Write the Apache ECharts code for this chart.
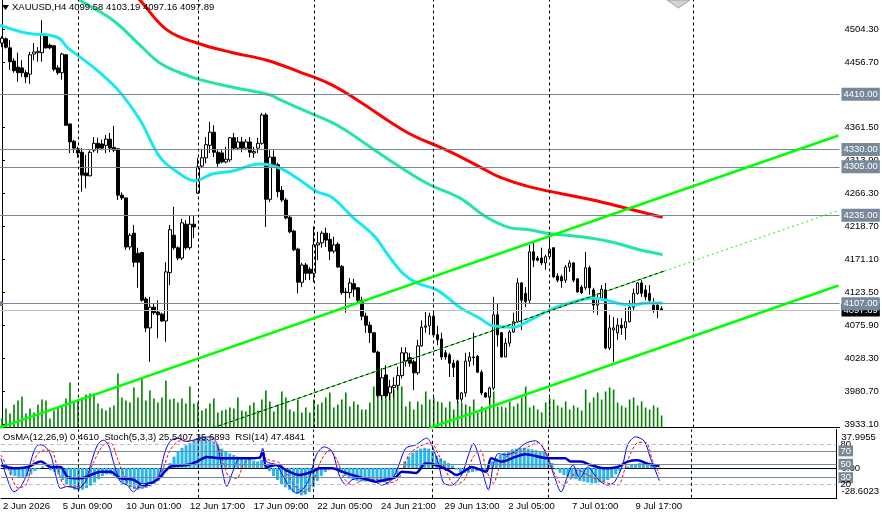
<!DOCTYPE html>
<html>
<head>
<meta charset="utf-8">
<script src="https://cdn.jsdelivr.net/npm/echarts@6/dist/echarts.min.js"></script>
<style>
html, body { margin: 0; padding: 0; background: #fff; }
#main { width: 882px; height: 519px; }
</style>
</head>
<body>
<div id="main"></div>
<script>
var totalBars = 210;
var timeLabels = ["2 Jun 2026", "5 Jun 09:00", "10 Jun 01:00", "12 Jun 17:00", "17 Jun 09:00", "22 Jun 05:00",
    "24 Jun 21:00", "29 Jun 13:00", "2 Jul 05:00", "7 Jul 01:00", "9 Jul 17:00"];
var timeLabelIdx = [0, 15, 31, 47, 63, 79, 95, 111, 127, 143, 159];
var priceTicks = [4504.3, 4456.7, 4361.5, 4313.9, 4266.3, 4218.7, 4171.1, 4123.5, 4075.9, 4028.3, 3980.7, 3933.1];
var separators = [19, 49, 78, 108, 137, 173];
var levels = [4410, 4330, 4305, 4235, 4107];
var bidPrice = 4097.89;

// open, close, low, high
var candles = [
    [4484,4491,4478,4494],[4490,4478,4476,4492],[4477,4457,4445,4488],[4458,4444,4441,4462],[4449,4441,4428,4470],
    [4448,4441,4435,4459],[4441,4435,4426,4445],[4439,4467,4425,4471],[4468,4471,4459,4484],[4470,4472,4457,4478],
    [4470,4496,4457,4517],[4494,4477,4476,4496],[4481,4477,4475,4483],[4480,4446,4443,4481],[4448,4441,4438,4452],
    [4441,4468,4431,4470],[4467,4365,4364,4468],[4367,4341,4325,4367],[4342,4332,4325,4344],[4331,4325,4318,4334],
    [4326,4293,4269,4332],[4296,4292,4274,4322],[4292,4326,4291,4329],[4329,4339,4326,4348],[4339,4332,4325,4347],
    [4338,4332,4329,4344],[4336,4345,4325,4351],[4345,4332,4326,4354],[4333,4329,4326,4364],[4331,4264,4257,4332],
    [4264,4260,4257,4268],[4260,4189,4185,4260],[4189,4206,4185,4209],[4209,4167,4160,4221],[4180,4167,4130,4188],
    [4181,4112,4110,4182],[4114,4072,4066,4117],[4072,4102,4023,4117],[4102,4094,4091,4108],[4095,4091,4057,4112],
    [4092,4082,4081,4094],[4082,4153,4052,4167],[4152,4214,4134,4221],[4206,4188,4185,4247],[4188,4173,4170,4190],
    [4173,4224,4170,4230],[4222,4188,4185,4228],[4188,4222,4185,4235],[4222,4218,4202,4235],[4267,4305,4266,4318],
    [4306,4318,4303,4331],[4318,4337,4310,4348],[4336,4355,4325,4370],[4355,4326,4319,4365],[4326,4310,4305,4329],
    [4325,4312,4310,4329],[4312,4316,4310,4334],[4315,4347,4312,4348],[4347,4332,4329,4354],[4332,4341,4329,4348],
    [4341,4332,4326,4348],[4332,4341,4329,4345],[4341,4326,4319,4348],[4325,4327,4318,4334],[4332,4339,4325,4347],
    [4339,4380,4337,4383],[4380,4258,4218,4383],[4258,4319,4254,4329],[4319,4308,4305,4329],[4308,4269,4261,4311],
    [4271,4257,4254,4277],[4257,4231,4229,4260],[4232,4211,4209,4235],[4212,4185,4183,4214],[4186,4138,4122,4188],
    [4138,4163,4131,4166],[4163,4151,4141,4166],[4157,4151,4141,4160],[4151,4192,4138,4219],[4192,4195,4170,4211],
    [4195,4209,4188,4212],[4209,4199,4189,4217],[4200,4183,4170,4209],[4183,4192,4180,4204],[4193,4160,4159,4196],
    [4161,4123,4120,4163],[4123,4124,4094,4130],[4123,4137,4115,4144],[4136,4128,4117,4143],[4130,4112,4108,4131],
    [4112,4089,4083,4117],[4089,4076,4065,4094],[4076,4065,4050,4081],[4065,4037,4036,4066],[4037,3974,3971,4039],
    [3974,4000,3968,4014],[4004,3974,3971,4018],[3978,3987,3968,3997],[3986,3989,3971,4001],[3989,4003,3982,4016],
    [4003,4036,3999,4044],[4024,4036,4016,4044],[4029,4021,4016,4036],[4023,4007,3982,4026],[4007,4046,4004,4055],
    [4046,4073,4045,4083],[4073,4075,4065,4095],[4075,4089,4062,4094],[4089,4062,4062,4094],[4062,4055,4047,4075],
    [4056,4030,4026,4065],[4036,4030,4026,4040],[4033,4021,4001,4036],[4021,4015,4001,4026],[4024,3969,3963,4026],
    [3969,3978,3965,3979],[3978,4024,3972,4036],[4024,4030,4016,4037],[4030,4029,4018,4065],[4031,4008,4007,4033],
    [4008,3978,3975,4011],[3978,3972,3971,3979],[3972,3985,3963,3987],[3985,4091,3982,4117],[4091,4062,4045,4108],
    [4065,4030,4029,4066],[4030,4050,4030,4057],[4050,4066,4045,4069],[4066,4081,4065,4094],[4081,4137,4079,4144],
    [4137,4112,4069,4138],[4122,4110,4102,4131],[4112,4182,4108,4192],[4182,4170,4160,4195],[4173,4170,4168,4176],
    [4173,4166,4163,4188],[4166,4175,4156,4178],[4175,4186,4173,4204],[4188,4146,4144,4188],[4147,4141,4138,4151],
    [4146,4140,4130,4149],[4141,4160,4137,4163],[4160,4166,4153,4170],[4166,4141,4138,4167],[4143,4124,4123,4144],
    [4131,4123,4121,4134],[4130,4159,4127,4182],[4159,4130,4120,4162],[4127,4105,4094,4130],[4105,4115,4091,4122],
    [4115,4128,4112,4134],[4127,4043,4041,4137],[4043,4072,4040,4091],[4069,4072,4023,4088],[4065,4076,4055,4086],
    [4076,4072,4062,4086],[4072,4081,4055,4101],[4081,4102,4080,4112],[4102,4122,4098,4129],[4122,4137,4120,4138],
    [4137,4122,4117,4141],[4127,4117,4112,4134],[4122,4112,4109,4134],[4105,4098,4094,4115],[4105,4098,4086,4108],
    [4099.58,4097.89,4097.16,4103.19]
];

var volumes = [
    9,19,14,23,27,31,14,19,15,23, 28,27,9,17,20,22,29,45,25,28, 30,33,34,34,24,19,17,20,22,54,
    30,27,25,40,30,49,27,37,29,25, 30,47,28,29,25,29,24,41,24,25, 17,19,24,29,15,17,18,20,19,30,
    17,16,22,25,17,28,37,
    26,16,23,36,30,18,16,28,15,20, 15,28,23,25,30,35,20,23,28,35, 21,26,23,18,18,25,41,41,31,33,
    35,38,42,41,21,26,18,26,23,36, 28,30,26,25,20,26,18,26,25,23, 21,28,15,21,18,35,36,21,21,20,
    26,21,24,30,41,
    20,22,18,15,25,30,28,22,20,26, 18,22,20,17,38,25,30,35,28,36, 40,38,25,22,20,28,30,22,26,20,
    18,22,20,12
];

// moving averages, [bar, price]
var maFast = [[-0.5,4510],[7.75,4497],[11.25,4496],[14.5,4490],[16.25,4478],[19.5,4464],[24.5,4441],[29.5,4413],
    [34.5,4373],[39.5,4319],[43.75,4298],[48.25,4285],[52.75,4295],[57.75,4299],[64.5,4309],[69.5,4303],
    [74.5,4286],[78.75,4269],[82.5,4261],[87.75,4232],[93.25,4204],[96.25,4180],[100.25,4151],[103.75,4137],
    [108.75,4127],[114.5,4102],[119.5,4086],[122.75,4075],[127.75,4073],[132,4083],[137,4098],[142,4108],
    [147.75,4115],[151.25,4112],[154.5,4107],[157.75,4105],[161.25,4108],[165.25,4108]];
var maMid = [[12,4575],[19.5,4546],[27.75,4517],[34.5,4481],[39.5,4455],[44.5,4441],[49.5,4431],[57.75,4420],
    [67,4409],[69.5,4402],[77,4383],[84.5,4363],[92,4334],[99.5,4305],[107,4279],[114.5,4260],[121.25,4232],
    [127,4217],[132,4214],[136.25,4209],[144.5,4204],[152.75,4196],[159.5,4185],[165.25,4178]];
var maSlow = [[30,4572],[34.5,4546],[41.25,4503],[48.75,4484],[57.75,4470],[66.25,4459],[74.5,4442],[82,4425],
    [88.75,4402],[101.25,4355],[111.25,4329],[119.5,4305],[124.5,4290],[132,4276],[147.75,4257],[156.25,4245],
    [165.25,4232]];

// channel lines
var chUpper = [[-0.5,3928.0],[209.25,4350.3]];
var chLower = [[107,3927.3],[209.25,4133.3]];
var chMid = [[52.75,3927.3],[165.75,4154.4]];
var chMidRay = [[165.75,4154.4],[209.25,4241.8]];

// indicators
var osma = [
    0,-2, -8,-10,-11,-11,-10,-8, -4,-1,2, 0,-3,-5,-8,
    -15,-20,-24,-27,-28,-27,-25,-22, -18,-14,-10,-8,-8,
    -10,-14,-18,-21,-24,-26,-27,-26,-25,-23,-20,-16,-12,
    -4,6,14,20,25,28,31,34,36,38,37,35,32,
    28,24,21,18,16,14,12,11,10,9,8,10,
    4,-4,-10,-15,-20,-24,-27,-30,-32,-34,-33,-30,
    -24,-16,-10,-5,-2,0,-2,
    -6,-10,-13,-15,-16,-17,-17,-16,-16,-15,-17,-18,-16,-14,
    -8,0,8,14,19,22,24,25,24,20,15,
    12,9,6,3, -2,-5,-6,-6,-5,-4,-3,-2,
    3,8,12,16,19,21,23,24,25,25,24,23,22,21,20,14,
    6,-2,-6,-9,-11,-13,-14,-16,-17,-18,-19,-19,-18,-17,-15,-12,-8,-4,-1,2,
    4,5,6,6,5,4,2,0.461
];
var stochMain = [[-0.5,59],[0.75,34],[2.75,9],[4.5,17],[6.25,39],[7.75,69],[9,79],[10.25,78],[12,64],[13.25,34],
    [14.5,14],[16.25,17],[18.75,14],[20.75,24],[22,49],[23.75,79],[25.25,86],[26.5,79],[27.75,54],[29.5,24],
    [31.25,19],[32.75,9],[34.5,19],[36.25,22],[38.75,27],[40.75,69],[42,84],[43.75,89],[46.25,84],[49.5,89],
    [52,91],[53.75,81],[55,44],[56.25,17],[57.75,39],[59.5,59],[61.25,59],[62.75,59],[64.5,61],[65.25,74],
    [66.25,54],[68.75,49],[70.25,34],[72,17],[73.75,7],[75.25,12],[77,29],[78.75,64],[80.75,76],[82.75,69],
    [84.5,34],[86.25,19],[87.75,27],[90.25,29],[92.75,27],[95.25,19],[97.75,27],[99.5,49],[101.25,74],[103.75,79],
    [106.5,89],[107.75,79],[109.5,50],[110.75,22],[112.75,19],[115.25,34],[117,64],[118.25,81],[119.5,64],
    [120.75,34],[122,12],[123.25,49],[124.5,66],[126.25,64],[128.75,69],[131.25,81],[133.75,85],[135.25,79],
    [137,59],[138.75,29],[140.25,9],[142,34],[143.25,49],[145,29],[147,46],[148.75,34],[150.25,24],[152,19],
    [153.75,24],[155.75,49],[157,79],[159,91],[161.25,84],[162.75,59],[165,25.54]];
var stochSignal = [[-0.5,64],[1.5,41],[3.75,15],[5.75,19],[7.75,56],[10,71],[12,71],[13.75,44],[15.25,19],
    [17.75,16],[20.25,21],[22.75,53],[25.25,79],[27,82],[28.75,59],[30.75,29],[32.75,15],[35.25,16],[37.75,22],
    [40.25,44],[42,71],[44.5,85],[48.25,85],[52,86],[54.5,71],[56.5,34],[58.75,29],[60.75,53],[63.25,59],
    [65.75,59],[67,56],[69.5,52],[71.5,34],[73.75,15],[75.75,9],[77.75,22],[80,56],[82,71],[84,56],[85.75,29],
    [87.75,19],[90.75,27],[94,27],[97,22],[99.5,29],[102,64],[104.5,76],[107.5,82],[109.5,64],[111.5,38],
    [113.5,19],[116,27],[118,59],[120,71],[121.5,41],[123.25,22],[125,49],[127,64],[129.5,68],[132,76],
    [134.5,82],[136.25,71],[138.25,41],[140.75,19],[142.5,27],[144.5,41],[147,34],[149.5,27],[152,22],
    [154.5,19],[157,56],[159.5,82],[161.5,83],[163.25,56],[165,35.69]];
var rsi = [[-0.5,49],[2.75,44],[6.25,46],[9.5,54],[12,46],[14.5,46],[16.25,31],[19.5,29],[22,34],[24.5,39],
    [27,39],[29.5,29],[32.75,27],[35.25,19],[38.75,27],[42,46],[46.25,49],[48.75,54],[51.25,61],[54.5,59],
    [57.75,59],[62,59],[64.5,60],[65.25,69],[66.25,46],[68.75,49],[71.25,41],[74.5,34],[77.75,39],[79.5,44],
    [82.75,44],[85.25,39],[89.5,31],[93.75,24],[96.25,27],[98.75,31],[100.25,39],[103.75,37],[106.25,51],
    [108.75,49],[112,41],[114,34],[116.25,41],[117.75,46],[120.25,41],[121.5,39],[122.75,59],[125.25,54],
    [128.75,61],[131.25,65],[137,59],[141.25,59],[142.75,54],[145.25,54],[147.75,49],[151.25,44],[154.5,46],
    [157,54],[159.5,56],[162,51],[165,47.48]];
var oscLevels = [80, 70, 50, 30, 20];
var osmaTicks = [37.9955, 0, -28.6023];

var FONT = 'Liberation Sans';
var cats = [];
var labelMap = {};
for (var i = 0; i < totalBars; i++) {
    cats.push('b' + i);
}
for (var k = 0; k < timeLabelIdx.length; k++) {
    labelMap[timeLabelIdx[k]] = timeLabels[k];
}

var sepLines = separators.map(function (s) { return { xAxis: s }; });
var sepMark = {
    silent: true, symbol: ['none', 'none'], animation: false,
    label: { show: false },
    lineStyle: { color: '#000', width: 1, type: [3, 3], opacity: 1 },
    emphasis: { disabled: true },
    data: sepLines
};

function boxLabel(bg) {
    return {
        show: true, position: 'end', distance: 2,
        formatter: function (p) { return p.value.toFixed(2); },
        color: '#fff', backgroundColor: bg, padding: [2, 2, 1, 2],
        fontFamily: FONT, fontSize: 9.5
    };
}

var priceLines = [{
    yAxis: bidPrice,
    lineStyle: { color: '#c0c0c0', width: 1, type: 'solid' },
    label: boxLabel('#000')
}];
levels.forEach(function (lv) {
    var item = {
        yAxis: lv,
        lineStyle: { color: '#778899', width: 1, type: 'solid' },
        label: boxLabel('#778899')
    };
    if (lv === 4107) {
        item.symbol = ['emptyRect', 'emptyRect'];
        item.symbolSize = 5;
    }
    priceLines.push(item);
});

var oscLines = oscLevels.map(function (lv) {
    var boxed = (lv === 70 || lv === 50 || lv === 30);
    return {
        yAxis: lv,
        lineStyle: boxed ? { color: '#778899', width: 1, type: 'solid' } : { color: '#c0c0c0', width: 1, type: [4, 3] },
        label: {
            show: true, position: 'end', distance: 2,
            formatter: String(lv),
            color: boxed ? '#fff' : '#000',
            backgroundColor: boxed ? '#778899' : 'transparent',
            padding: [1, 2, 0, 2], fontFamily: FONT, fontSize: 9.5
        }
    };
});

var myChart = echarts.init(document.getElementById('main'));
var option = {
    animation: false,
    backgroundColor: '#fff',
    title: [{
        text: 'XAUUSD,H4 4099.58 4103.19 4097.16 4097.89',
        left: 12, top: 2.5, padding: 0,
        textStyle: { fontFamily: FONT, fontSize: 9.5, fontWeight: 'normal', color: '#000' }
    }, {
        text: 'OsMA(12,26,9) 0.4610  Stoch(5,3,3) 25.5407 35.6893  RSI(14) 47.4841',
        left: 3, top: 432.5, padding: 0,
        textStyle: { fontFamily: FONT, fontSize: 9.5, fontWeight: 'normal', color: '#000' }
    }],
    graphic: [{
        type: 'polygon', shape: { points: [[2, 5], [9, 5], [5.5, 10]] },
        style: { fill: '#000' }
    }, {
        type: 'polygon', shape: { points: [[667, 0], [690, 0], [678.5, 8]] },
        style: { fill: '#d4d4d4', stroke: '#a0a0a0', lineWidth: 1 }
    }],
    grid: [
        { left: -0.5, width: 840, top: 0, height: 427.5 },
        { left: -0.5, width: 840, top: 429.5, height: 68.3 }
    ],
    xAxis: [
        { type: 'category', gridIndex: 0, data: cats, boundaryGap: true,
          axisLine: { show: true, lineStyle: { color: '#000', width: 1 } },
          axisTick: { show: false }, axisLabel: { show: false }, splitLine: { show: false } },
        { type: 'value', gridIndex: 0, min: -0.5, max: totalBars - 0.5, show: false },
        { type: 'category', gridIndex: 1, data: cats, boundaryGap: true,
          axisLine: { show: true, lineStyle: { color: '#000', width: 1 } },
          axisTick: { show: false }, splitLine: { show: false },
          axisLabel: {
              show: true, margin: 4, align: 'left', color: '#000', fontFamily: FONT, fontSize: 9.5,
              interval: function (index) { return labelMap[index] !== undefined; },
              formatter: function (v, index) { return labelMap[index] || ''; }
          } },
        { type: 'value', gridIndex: 1, min: -0.5, max: totalBars - 0.5, position: 'top',
          axisLine: { show: true, lineStyle: { color: '#000', width: 1 } },
          axisTick: { show: false }, axisLabel: { show: false }, splitLine: { show: false } }
    ],
    yAxis: [
        { type: 'value', gridIndex: 0, position: 'right', min: 3928.0, max: 4546.2,
          axisLine: { show: true, lineStyle: { color: '#000', width: 1 } },
          axisTick: { show: true, length: 3, lineStyle: { color: '#000' }, customValues: priceTicks },
          axisLabel: { show: true, margin: 5, color: '#000', fontFamily: FONT, fontSize: 9.5,
              customValues: priceTicks,
              formatter: function (v) { return v.toFixed(2); } },
          splitLine: { show: false } },
        { type: 'value', gridIndex: 0, min: 0, max: 427.5, show: false },
        { type: 'value', gridIndex: 1, min: 0, max: 101.9, show: false },
        { type: 'value', gridIndex: 1, position: 'right', min: -37.03, max: 47.67,
          axisLine: { show: true, lineStyle: { color: '#000', width: 1 } },
          axisTick: { show: false },
          axisLabel: { show: true, margin: 5, color: '#000', fontFamily: FONT, fontSize: 9.5,
              customValues: osmaTicks,
              formatter: function (v) { return v === 0 ? '0.00' : v.toFixed(4); } },
          splitLine: { show: false } }
    ],
    series: [
        { name: 'Volumes', type: 'bar', xAxisIndex: 0, yAxisIndex: 1, data: volumes,
          barWidth: 1.6, itemStyle: { color: '#008000' }, z: 1, silent: true },
        { name: 'Levels', type: 'line', xAxisIndex: 1, yAxisIndex: 0, data: [], z: 1, symbol: 'none',
          markLine: { silent: true, symbol: ['none', 'none'], animation: false, data: priceLines } },
        { name: 'XAUUSD', type: 'candlestick', xAxisIndex: 0, yAxisIndex: 0, data: candles,
          barWidth: 3, z: 2, silent: true,
          itemStyle: { color: '#fff', color0: '#000', borderColor: '#000', borderColor0: '#000', borderWidth: 1 } },
        { name: 'MA fast', type: 'line', xAxisIndex: 1, yAxisIndex: 0, data: maFast, smooth: 0.4,
          showSymbol: false, symbol: 'none', z: 4, lineStyle: { color: '#18e8f0', width: 3 } },
        { name: 'MA mid', type: 'line', xAxisIndex: 1, yAxisIndex: 0, data: maMid, smooth: 0.4,
          showSymbol: false, symbol: 'none', z: 4, lineStyle: { color: '#22e6a2', width: 3 } },
        { name: 'MA slow', type: 'line', xAxisIndex: 1, yAxisIndex: 0, data: maSlow, smooth: 0.4,
          showSymbol: false, symbol: 'none', z: 4, lineStyle: { color: '#ff0000', width: 3 } },
        { name: 'Channel upper', type: 'line', xAxisIndex: 1, yAxisIndex: 0, data: chUpper,
          symbol: 'none', z: 5, lineStyle: { color: '#00ff00', width: 2.5 }, markLine: sepMark },
        { name: 'Channel lower', type: 'line', xAxisIndex: 1, yAxisIndex: 0, data: chLower,
          symbol: 'none', z: 5, lineStyle: { color: '#00ff00', width: 2.5 } },
        { name: 'Channel mid', type: 'line', xAxisIndex: 1, yAxisIndex: 0, data: chMid,
          symbol: 'none', z: 5, lineStyle: { color: '#00e000', width: 1 } },
        { name: 'Channel mid dash', type: 'line', xAxisIndex: 1, yAxisIndex: 0, data: chMid,
          symbol: 'none', z: 5, lineStyle: { color: '#000', width: 1, type: [3, 3] } },
        { name: 'Channel ray', type: 'line', xAxisIndex: 1, yAxisIndex: 0, data: chMidRay,
          symbol: 'none', z: 5, lineStyle: { color: '#00ff00', width: 1, type: [2, 3] } },
        { name: 'OsMA', type: 'bar', xAxisIndex: 2, yAxisIndex: 3, data: osma,
          barWidth: 3, itemStyle: { color: '#29b6ea' }, z: 1, silent: true },
        { name: 'Stoch', type: 'line', xAxisIndex: 3, yAxisIndex: 2, data: stochMain, smooth: 0.3,
          symbol: 'none', z: 3, lineStyle: { color: '#0000ff', width: 1 },
          markLine: { silent: true, symbol: ['none', 'none'], animation: false, data: oscLines } },
        { name: 'Signal', type: 'line', xAxisIndex: 3, yAxisIndex: 2, data: stochSignal, smooth: 0.3,
          symbol: 'none', z: 3, lineStyle: { color: '#ff0000', width: 1, type: [3, 2] }, markLine: sepMark },
        { name: 'RSI', type: 'line', xAxisIndex: 3, yAxisIndex: 2, data: rsi, smooth: 0.3,
          symbol: 'none', z: 4, lineStyle: { color: '#0000cd', width: 2.5 } }
    ]
};
myChart.setOption(option);
window.addEventListener('resize', function () {
    myChart.resize();
});
</script>
</body>
</html>
